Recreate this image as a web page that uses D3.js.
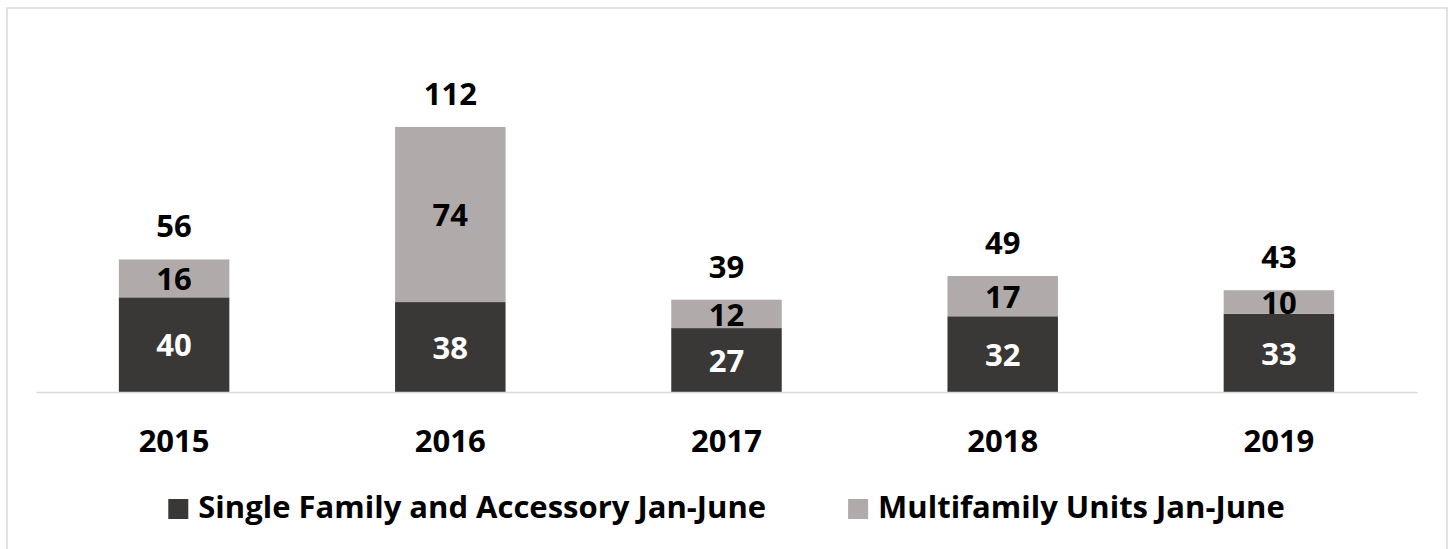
<!DOCTYPE html>
<html>
<head>
<meta charset="utf-8">
<script src="https://cdn.jsdelivr.net/npm/d3@7"></script>
<style>
  body { margin: 0; background: #fff; }
  text { font-family: "Open Sans", Lato, sans-serif; font-weight: 700; }
</style>
</head>
<body>
<div id="chart"></div>
<script>
const years = ["2015", "2016", "2017", "2018", "2019"];
const singleFamily = [40, 38, 27, 32, 33];
const multifamily = [16, 74, 12, 17, 10];
const totals = [56, 112, 39, 49, 43];
const seriesNames = ["Single Family and Accessory Jan-June", "Multifamily Units Jan-June"];
const seriesColors = ["#3a3837", "#b0abaa"];

const WIDTH = 1452;
const HEIGHT = 549;
const MARGINS = { top: 108, right: 35, bottom: 157, left: 36 };
const AXIS_FONT = 31;
const LABEL_FONT = 31;

const svg = d3.select("#chart").append("svg")
    .attr("width", WIDTH)
    .attr("height", HEIGHT)
    .attr("viewBox", [0, 0, WIDTH, HEIGHT]);

// outer frame (bottom edge runs off the picture)
svg.append("rect")
    .attr("x", 7)
    .attr("y", 8)
    .attr("width", 1440)
    .attr("height", 600)
    .style("fill", "none")
    .style("stroke", "#d9d9d9")
    .style("stroke-width", 1.5);

const x = d3.scaleBand()
    .domain(years)
    .range([MARGINS.left, WIDTH - MARGINS.right])
    .paddingInner(0.6)
    .paddingOuter(0.3);

const y = d3.scaleLinear()
    .domain([0, 120])
    .range([HEIGHT - MARGINS.bottom, MARGINS.top]);

// stacked data
const rows = years.map((yr, i) => ({ year: yr, single: singleFamily[i], multi: multifamily[i], total: totals[i] }));
const stack = d3.stack().keys(["single", "multi"])(rows);

stack.forEach(function(layer, li) {
    const g = svg.append("g");
    g.selectAll("rect")
        .data(layer)
        .join("rect")
        .attr("x", d => x(d.data.year))
        .attr("y", d => y(d[1]))
        .attr("width", x.bandwidth())
        .attr("height", d => y(d[0]) - y(d[1]))
        .style("fill", seriesColors[li]);
    g.selectAll("text")
        .data(layer)
        .join("text")
        .text(d => d[1] - d[0])
        .attr("x", d => x(d.data.year) + x.bandwidth() / 2)
        .attr("y", d => (y(d[0]) + y(d[1])) / 2 + LABEL_FONT * 0.38)
        .attr("text-anchor", "middle")
        .style("font-size", LABEL_FONT + "px")
        .style("fill", li === 0 ? "#ffffff" : "#000000");
});

// totals above bars
svg.append("g").selectAll("text")
    .data(rows)
    .join("text")
    .text(d => d.total)
    .attr("x", d => x(d.year) + x.bandwidth() / 2)
    .attr("y", d => y(d.total) - 22)
    .attr("text-anchor", "middle")
    .style("font-size", LABEL_FONT + "px")
    .style("fill", "#000");

// x axis
const xAxis = svg.append("g")
    .attr("transform", `translate(0,${y(0)})`)
    .call(d3.axisBottom(x).tickSize(0).tickSizeOuter(0).tickPadding(38));
xAxis.select(".domain").style("stroke", "#d9d9d9").style("stroke-width", 1.5);
xAxis.selectAll("text")
    .style("font-size", AXIS_FONT + "px")
    .style("font-family", "'Open Sans', Lato, sans-serif")
    .style("font-weight", 700)
    .style("fill", "#000");

// legend, centred under the plot
const legend = svg.append("g");
const SQ = 20, GAP = 10, ITEM_GAP = 82;
let cursor = 0;
seriesNames.forEach(function(name, i) {
    const item = legend.append("g");
    item.append("rect")
        .attr("x", 0).attr("y", -19)
        .attr("width", SQ).attr("height", SQ)
        .style("fill", seriesColors[i]);
    const t = item.append("text")
        .text(name)
        .attr("x", SQ + GAP)
        .attr("y", 0)
        .style("font-size", AXIS_FONT + "px")
        .style("fill", "#000");
    const w = SQ + GAP + t.node().getComputedTextLength();
    item.attr("transform", `translate(${cursor},0)`);
    cursor += w + ITEM_GAP;
});
const legendWidth = cursor - ITEM_GAP;
const cx = (MARGINS.left + WIDTH - MARGINS.right) / 2;
legend.attr("transform", `translate(${cx - legendWidth / 2},518)`);
</script>
</body>
</html>
